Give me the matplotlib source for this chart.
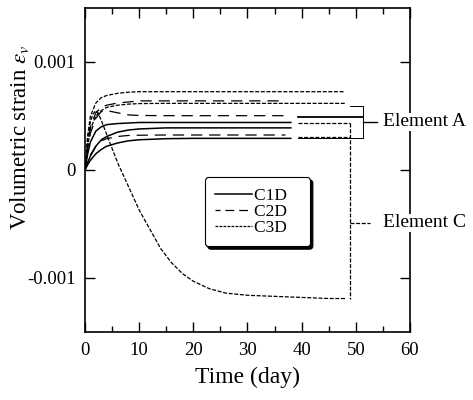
import matplotlib
matplotlib.use('Agg')
import matplotlib.pyplot as plt

plt.rcParams['font.family'] = ['Liberation Serif', 'DejaVu Serif']
plt.rcParams['mathtext.fontset'] = 'stix'

# ── Data ───────────────────────────────────────────────────────────────
t_c1d = [0, 0.5, 1, 2, 3, 4, 6, 8, 10, 15, 20, 30, 38]
c1d_a = [0, 0.00015, 0.00026, 0.00036, 0.00040, 0.00042, 0.00043, 0.000435,
         0.00044, 0.00044, 0.00044, 0.00044, 0.00044]
c1d_b = [0, 0.00007, 0.00013, 0.00022, 0.00028, 0.00031, 0.00035, 0.00037,
         0.00038, 0.00039, 0.00039, 0.00039, 0.00039]
c1d_c = [0, 0.00005, 0.00009, 0.00015, 0.00019, 0.00022, 0.00025, 0.00027,
         0.00028, 0.00029, 0.000293, 0.000293, 0.000293]

t_c2d = [0, 0.5, 1, 2, 3, 4, 6, 8, 10, 15, 20, 30, 37]
c2d_a = [0, 0.00025, 0.00040, 0.00053, 0.00058, 0.00060, 0.00062, 0.00063,
         0.00064, 0.00064, 0.00064, 0.00064, 0.00064]
c2d_b = [0, 0.00020, 0.00034, 0.00048, 0.00054, 0.00055, 0.00053, 0.00051,
         0.000505, 0.000503, 0.000503, 0.000503, 0.000503]
c2d_c = [0, 0.00008, 0.00014, 0.00022, 0.00027, 0.00029, 0.00031, 0.00032,
         0.000322, 0.000324, 0.000324, 0.000324, 0.000324]

t_c3d = [0, 0.5, 1, 2, 3, 4, 6, 8, 10, 15, 20, 30, 40, 48]
c3d_a = [0, 0.00032, 0.00050, 0.00062, 0.00067, 0.00069, 0.00071, 0.00072,
         0.000725, 0.000725, 0.000725, 0.000725, 0.000725, 0.000725]
c3d_b = [0, 0.00022, 0.00038, 0.00050, 0.00055, 0.00058, 0.00060, 0.00061,
         0.000615, 0.000617, 0.000617, 0.000617, 0.000617, 0.000617]

t_c3d_c = [0, 0.5, 1, 1.5, 2, 2.5, 3, 4, 5, 6, 7, 8, 10, 12, 14, 16, 18, 20,
           23, 26, 30, 35, 40, 45, 48]
c3d_c = [0, 0.00030, 0.00045, 0.00052, 0.00055, 0.00052, 0.00046, 0.00033,
         0.00020, 0.00007, -0.00004, -0.00015, -0.00037, -0.00055, -0.00073,
         -0.00086, -0.00096, -0.00103, -0.00110, -0.00114, -0.00116, -0.00117,
         -0.00118, -0.00119, -0.00119]

labels = ['C1D   ', 'C2D   ', 'C3D   ']
x_ticks = [0, 10, 20, 30, 40, 50, 60]
y_ticks = [-0.001, 0, 0.001]
y_tick_labels = ['-0.001', '0', '0.001']

# bracket annotation levels (strain)
brk_a = [0.000593, 0.000494, 0.000296]   # top, middle, bottom of element A box
brk_c = [0.000432, 0.000308]              # dashed box levels
elem_a_y = 0.000445
elem_c_y = -0.00049

DASH_C2D = (2, (9, 5.5))
DASH_C3D = (0, (3.2, 1.3))

fig = plt.figure(figsize=(4.73, 4.0), dpi=100)
ax = fig.add_axes([0.1797, 0.17, 0.6871, 0.81])

for y in (c1d_a, c1d_b, c1d_c):
    ax.plot(t_c1d, y, '-', color='black', lw=1.1)
for y in (c2d_a, c2d_b, c2d_c):
    ax.plot(t_c2d, y, color='black', lw=0.9, linestyle=DASH_C2D)
for y in (c3d_a, c3d_b):
    ax.plot(t_c3d, y, color='black', lw=0.9, linestyle=DASH_C3D)
ax.plot(t_c3d_c, c3d_c, color='black', lw=0.9, linestyle=DASH_C3D)

# ── Brackets / labels on the right ────────────────────────────────────
kw = dict(color='black', clip_on=False)
ax.plot([39.3, 51.3], [brk_a[1], brk_a[1]], lw=1.3, **kw)
ax.plot([48.9, 51.3, 51.3, 39.3], [brk_a[0], brk_a[0], brk_a[2], brk_a[2]],
        lw=0.7, **kw)
ax.plot([51.3, 54.0], [elem_a_y, elem_a_y], lw=1.0, **kw)
ax.plot([39.3, 48.9], [brk_c[0], brk_c[0]], lw=0.9, linestyle=DASH_C3D, **kw)
ax.plot([39.3, 48.9], [brk_c[1], brk_c[1]], lw=0.9, linestyle=DASH_C3D, **kw)
ax.plot([48.9, 48.9], [brk_c[0], c3d_c[-1]], lw=0.9, linestyle=DASH_C3D, **kw)
ax.plot([48.9, 52.6], [elem_c_y, elem_c_y], lw=0.9, linestyle=DASH_C3D, **kw)
box = dict(facecolor='white', edgecolor='none', pad=0.5)
ax.text(55.0, elem_a_y, 'Element A', fontsize=14, va='center', ha='left',
        clip_on=False, bbox=box, zorder=5)
ax.text(55.0, elem_c_y, 'Element C', fontsize=14, va='center', ha='left',
        clip_on=False, bbox=box, zorder=5)

# legend proxies
h1, = ax.plot([], [], '-', color='black', lw=1.1)
h2, = ax.plot([], [], color='black', lw=0.9, linestyle=(3, (7, 4)))
h3, = ax.plot([], [], color='black', lw=0.9, linestyle=(0, (2.2, 1.0)))
leg = ax.legend([h1, h2, h3], labels, loc='upper left',
                bbox_to_anchor=(0.369, 0.478), fontsize=12.5, frameon=True,
                fancybox=True, shadow={'color': 'black', 'alpha': 1.0},
                handlelength=2.1, handletextpad=0.1, labelspacing=0.0,
                borderpad=0.6, borderaxespad=0.0)
leg.get_frame().set_edgecolor('black')
leg.get_frame().set_linewidth(0.8)
leg.get_frame().set_alpha(1.0)

ax.set_xlim(0, 60)
ax.set_ylim(-0.0015, 0.0015)
ax.set_xticks(x_ticks)
ax.set_xticks([5, 15, 25, 35, 45, 55], minor=True)
ax.set_yticks(y_ticks)
ax.set_yticklabels(y_tick_labels)
ax.tick_params(which='both', direction='in', top=True, right=True,
               labelsize=13.5, width=1.0)
ax.tick_params(which='major', length=7, pad=7)
ax.tick_params(which='minor', length=4)
for sp in ax.spines.values():
    sp.set_linewidth(1.2)

ax.set_xlabel('Time (day)', fontsize=17, labelpad=6)
ax.set_ylabel(r'Volumetric strain $\varepsilon_v$', fontsize=16.5)
ax.yaxis.set_label_coords(-0.165, 0.6)

fig.savefig('out.png', dpi=100)
